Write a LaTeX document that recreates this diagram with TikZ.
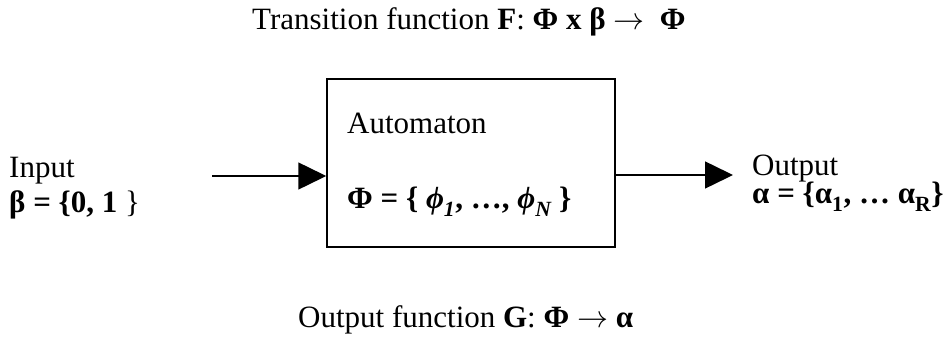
\RequirePackage{fix-cm}
\documentclass[tikz,border=0pt]{standalone}
\usepackage{fontspec}
\setmainfont{Liberation Serif}
\usetikzlibrary{arrows.meta}
\newcommand{\lowsub}[1]{\raisebox{-0.3ex}{\textsubscript{#1}}}
\newcommand{\maparrow}{\ensuremath{\rightarrow}}
\begin{document}
\begin{tikzpicture}[x=1pt,y=1pt,
  txt/.style={inner sep=0pt, anchor=base west, font=\fontsize{31}{36}\selectfont},
  arr/.style={line width=1.5pt, -{Triangle[length=28pt,width=27pt]}},
  boxstyle/.style={draw, line width=1.5pt, minimum width=288pt, minimum height=168pt, inner sep=0pt}]
\useasboundingbox (0,0) rectangle (948,-340);
\node[txt] (title) at (252,-29) {Transition function \textbf{F}: \textbf{Φ x β \maparrow\ \ Φ}};
\node[boxstyle] (box) at (471,-163) {};
\node[txt] (aut) at (347,-133) {Automaton};
\node[txt] (states) at (347,-208) {\textbf{Φ = \{ \textit{ϕ\lowsub{1}}, …, \textit{ϕ\lowsub{N}} \}}};
\node[txt] (inlbl) at (9,-177) {Input};
\node[txt] (inset) at (9,-212) {\textbf{β = \{0, 1} \}};
\node[txt] (outlbl) at (752,-175) {Output};
\node[txt] (outset) at (752,-203) {\textbf{α = \{α\lowsub{1}, … α\lowsub{R}\}}};
\node[txt] (gfun) at (298,-327) {Output function \textbf{G}: \textbf{Φ \maparrow\ α}};
\coordinate (instart) at (212,-176);
\coordinate (outend) at (733,-175);
\draw[arr] (instart) -- (box.west |- instart);
\draw[arr] (box.east |- outend) -- (outend);
\end{tikzpicture}
\end{document}
